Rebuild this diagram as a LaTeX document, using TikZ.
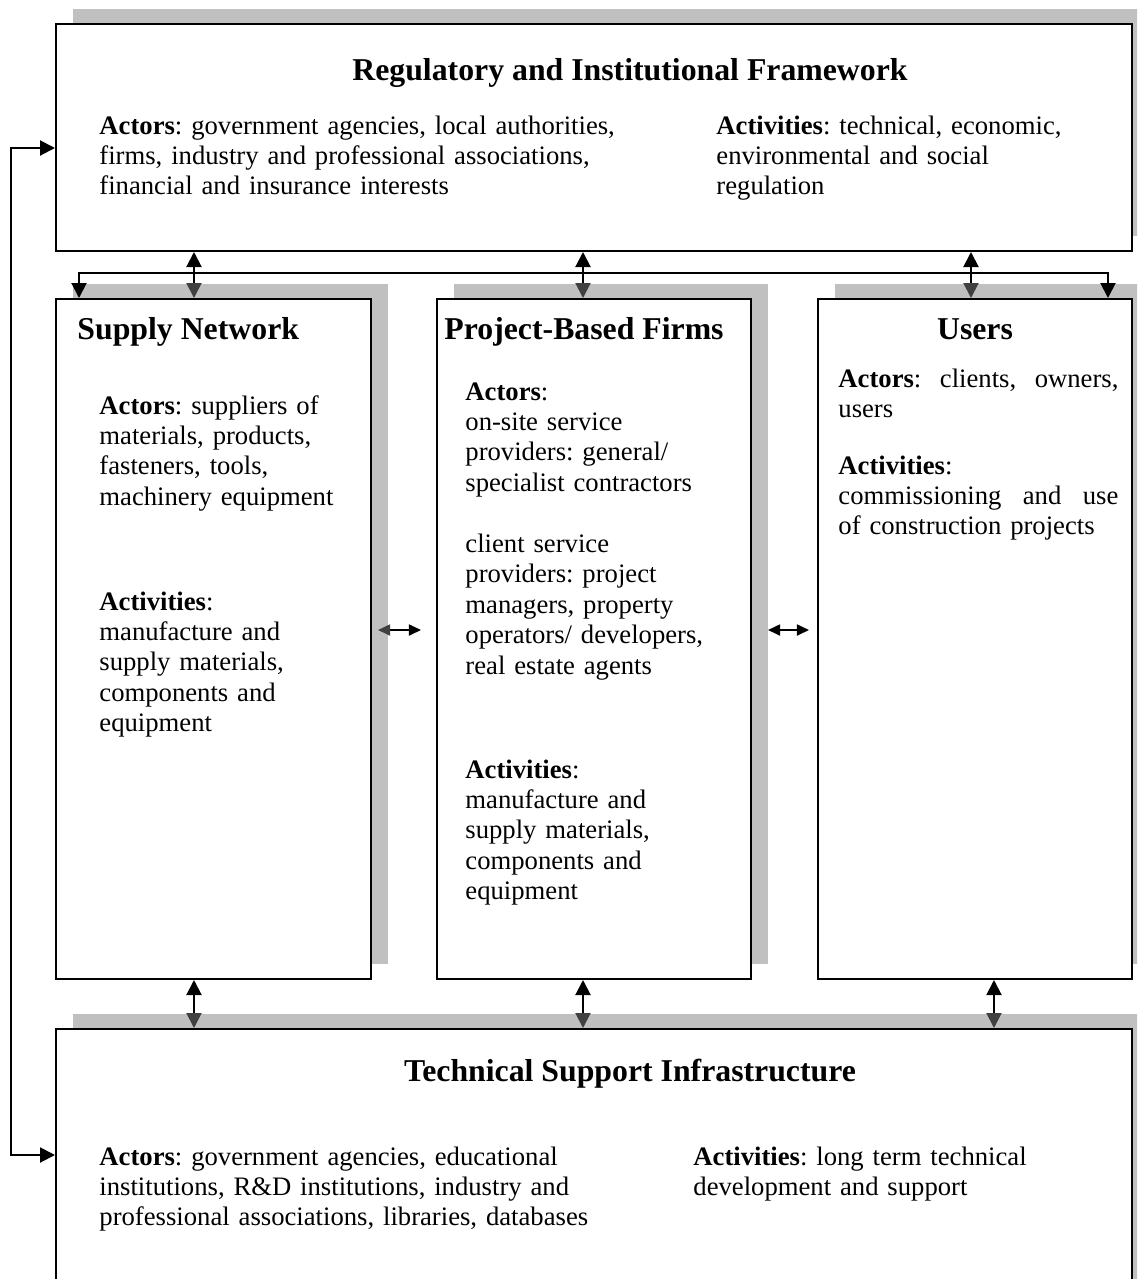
\documentclass[tikz,border=0pt]{standalone}
\usepackage{fontspec}
\setmainfont{Liberation Serif}
\frenchspacing
\usetikzlibrary{arrows.meta,shadows,fit,calc}
\definecolor{shadowgray}{RGB}{192,192,192}
\definecolor{tipgray}{RGB}{64,64,64}
\tikzset{
	framebox/.style = {shape=rectangle, draw, line width=0.9pt,
		fill=white, inner sep=0pt,
		drop shadow={shadow xshift=7.65pt, shadow yshift=6.75pt,
			fill=shadowgray, opacity=1}},
	heading/.style  = {font=\fontsize{14.3}{16}\selectfont\bfseries,
		inner sep=0pt},
	body/.style     = {font=\fontsize{12}{13.7}\selectfont,
		anchor=base west, inner sep=0pt,
		align=left, text width=#1},
	body/.default   = 140pt,
	link/.style     = {line width=0.9pt},
	dbl/.style      = {link,
		{Triangle[length=6.75pt,width=6.75pt]}-{Triangle[length=6.75pt,width=6.75pt,color=tipgray]}},
	feed/.style     = {link,
		{Triangle[length=6.75pt,width=6.75pt]}-{Triangle[length=6.75pt,width=6.75pt]}},
	side/.style     = {link,
		{Triangle[length=5.5pt,width=5pt,color=#1]}-{Triangle[length=5.5pt,width=5pt]}},
	side/.default   = black
}

\begin{document}
\begin{tikzpicture}[x=0.45pt,y=-0.45pt]
	\useasboundingbox (0,0) rectangle (1137,1279);
	\clip (0,0) rectangle (1137,1279);

	% boxes
	\node[framebox, fit={(56,24) (1132,251)}]   (regframe)  {};
	\node[framebox, fit={(56,299) (371,979)}]   (supplynet) {};
	\node[framebox, fit={(437,299) (751,979)}]  (pbfirms)   {};
	\node[framebox, fit={(818,299) (1132,979)}] (users)     {};
	\node[framebox, fit={(56,1029) (1132,1320)}] (techinfra) {};

	% texts
	\node[heading, anchor=base] (regtitle) at (630,80)
		{Regulatory and Institutional Framework};
	\node[body=300pt] (regactors) at (99,134)
		{\textbf{Actors}: government agencies, local authorities,\\
		firms, industry and professional associations,\\
		financial and insurance interests};
	\node[body=200pt] (regacts) at (716,134)
		{\textbf{Activities}: technical, economic,\\
		environmental and social\\
		regulation};

	\node[heading, anchor=base west] (sntitle) at (77,339) {Supply Network};
	\node[body] (snactors) at (99,414)
		{\textbf{Actors}: suppliers of\\
		materials, products,\\
		fasteners, tools,\\
		machinery equipment};
	\node[body] (snacts) at (99,610)
		{\textbf{Activities}:\\
		manufacture and\\
		supply materials,\\
		components and\\
		equipment};

	\node[heading, anchor=base west] (pbftitle) at (444,339) {Project-Based Firms};
	\node[body] (pbfactors) at (465,400)
		{\textbf{Actors}:\\
		on-site service\\
		providers: general/\\
		specialist contractors\\[13.7pt]
		client service\\
		providers: project\\
		managers, property\\
		operators/ developers,\\
		real estate agents};
	\node[body] (pbfacts) at (465,778)
		{\textbf{Activities}:\\
		manufacture and\\
		supply materials,\\
		components and\\
		equipment};

	\node[heading, anchor=base] (ustitle) at (975,339) {Users};
	\node[body=126pt] (usactors) at (838,387)
		{\textbf{Actors}:\hfill clients,\hfill owners,\\
		users};
	\node[body=126pt] (usacts) at (838,474)
		{\textbf{Activities}:\\
		commissioning\hfill and\hfill use\\
		of construction projects};

	\node[heading, anchor=base] (tititle) at (630,1081)
		{Technical Support Infrastructure};
	\node[body=300pt] (tiactors) at (99,1165)
		{\textbf{Actors}: government agencies, educational\\
		institutions, R\&D institutions, industry and\\
		professional associations, libraries, databases};
	\node[body=200pt] (tiacts) at (693,1165)
		{\textbf{Activities}: long term technical\\
		development and support};

	% connectors
	\foreach \ax/\dn in {194/supplynet, 583/pbfirms, 971/users}
	{
		\path (\ax,0) coordinate (ax);
		\draw[dbl] (ax |- regframe.south) -- (ax |- \dn.north);
	}
	\foreach \ax/\up in {194/supplynet, 583/pbfirms, 994/users}
	{
		\path (\ax,0) coordinate (ax);
		\draw[dbl] (ax |- \up.south) -- (ax |- techinfra.north);
	}

	\coordinate (busL) at (79,273);
	\coordinate (busR) at (1108,273);
	\draw[feed] (busL |- supplynet.north) -- (busL) -- (busR) -- (busR |- users.north);

	\coordinate (loopx) at (11,650);
	\coordinate (loopT) at (0,148);
	\coordinate (loopB) at (0,1155);
	\draw[feed] (regframe.west |- loopT) -| (loopx) |- (techinfra.west |- loopB);

	\coordinate (midrow) at (0,630);
	\draw[side=tipgray] ($(supplynet.east |- midrow)+(6,0)$) -- ($(pbfirms.west |- midrow)+(-15,0)$);
	\draw[side] ($(pbfirms.east |- midrow)+(16,0)$) -- ($(users.west |- midrow)+(-8,0)$);
\end{tikzpicture}
\end{document}
